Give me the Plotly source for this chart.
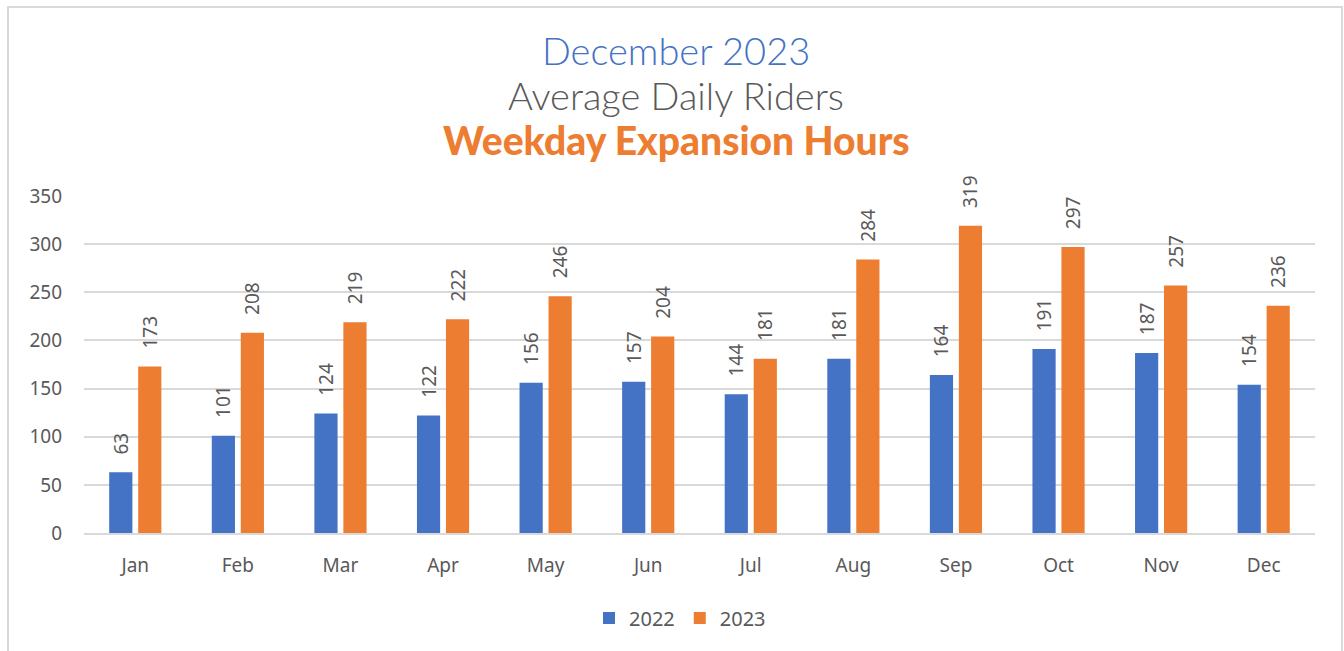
import plotly.graph_objects as go

months = ["Jan", "Feb", "Mar", "Apr", "May", "Jun", "Jul", "Aug", "Sep", "Oct", "Nov", "Dec"]
riders_2022 = [63, 101, 124, 122, 156, 157, 144, 181, 164, 191, 187, 154]
riders_2023 = [173, 208, 219, 222, 246, 204, 181, 284, 319, 297, 257, 236]
y_ticks = [0, 50, 100, 150, 200, 250, 300, 350]

W, H = 1344, 651
ML, MR, MT, MB = 84, 29, 196, 118

BLUE = "#4472C4"
ORANGE = "#ED7D31"
GRAY = "#595959"
NUM_FONT = "Noto Sans"

fig = go.Figure()
for name, vals, col in [("2022", riders_2022, BLUE), ("2023", riders_2023, ORANGE)]:
    fig.add_trace(go.Bar(
        x=months, y=vals, name=name, marker=dict(color=col, line=dict(width=0)),
        text=["\u00a0\u00a0\u00a0" + str(v) for v in vals], textposition="outside", textangle=-90,
        textfont=dict(family=NUM_FONT, size=19, color=GRAY),
        constraintext="none", cliponaxis=False,
    ))

pw = W - ML - MR
ph = H - MT - MB
def px_x(p):
    return (p - ML) / pw
def px_y(p):
    return (H - MB - p) / ph

fig.add_shape(type="rect", xref="paper", yref="paper",
              x0=px_x(8), x1=px_x(1342), y0=px_y(670), y1=px_y(7),
              line=dict(color="#d9d9d9", width=2), fillcolor="rgba(0,0,0,0)", layer="below")

titles = [
    ("December 2023", BLUE, 38, 300, 50),
    ("Average Daily Riders", GRAY, 38, 300, 95),
    ("Weekday Expansion Hours", ORANGE, 39, 900, 140),
]
for txt, col, sz, wt, yc in titles:
    fig.add_annotation(text=txt, xref="paper", yref="paper", x=px_x(676), y=px_y(yc),
                       xanchor="center", yanchor="middle", showarrow=False,
                       font=dict(family="Lato", size=sz, color=col, weight=wt))

fig.update_layout(
    width=W, height=H,
    margin=dict(l=ML, r=MR, t=MT, b=MB),
    paper_bgcolor="white", plot_bgcolor="white",
    barmode="group", bargap=0.435, bargroupgap=0.2,
    showlegend=True,
    legend=dict(orientation="h", x=px_x(680), y=px_y(618), xanchor="center", yanchor="middle",
                font=dict(family=NUM_FONT, size=20, color=GRAY), itemwidth=30,
                traceorder="normal"),
    xaxis=dict(showgrid=False, ticks="", tickfont=dict(family=NUM_FONT, size=19, color=GRAY),
               showline=True, linecolor="#d9d9d9", linewidth=2, ticklabelstandoff=14),
    yaxis=dict(range=[0, 350], tickvals=y_ticks, showgrid=True, gridcolor="#d9d9d9", gridwidth=1.5,
               zeroline=False, ticks="", ticklabelstandoff=21,
               tickfont=dict(family=NUM_FONT, size=19, color=GRAY)),
)

fig.write_html("out.html", config={"displayModeBar": False},
               post_script="document.body.style.margin='0';document.body.style.overflow='hidden';")
